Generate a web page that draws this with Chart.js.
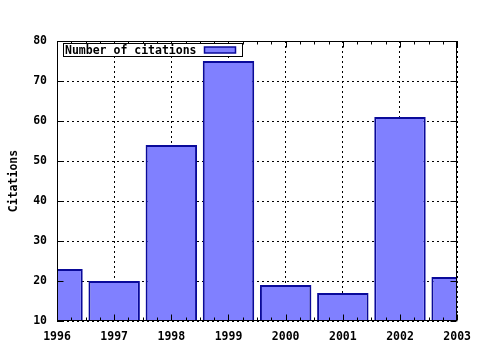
<!DOCTYPE html>
<html>
<head>
<meta charset="utf-8">
<script src="https://cdn.jsdelivr.net/npm/chart.js@4/dist/chart.umd.min.js"></script>
<style>
  html, body { margin: 0; padding: 0; background: #ffffff; }
  canvas { display: block; }
</style>
</head>
<body>
<canvas id="c" width="480" height="350"></canvas>
<script>
const years = [1996, 1997, 1998, 1999, 2000, 2001, 2002, 2003];
const citations = [23, 20, 54, 75, 19, 17, 61, 21];
const seriesLabel = 'Number of citations';
const yTitle = 'Citations';
const xRange = [1996, 2003];
const yRange = [10, 80];
const xMinorPerMajor = 4;

const FONT = '"DejaVu Sans Mono", "Liberation Mono", monospace';
const fontSpec = { family: FONT, size: 11.5, weight: 'bold' };

const framePlugin = {
  id: 'frameTicksLegend',
  afterDatasetsDraw(chart) {
    const ctx = chart.ctx;
    const a = chart.chartArea;
    const xs = chart.scales.x, ys = chart.scales.y;
    const L = Math.round(a.left) + 0.5, R = Math.round(a.right) - 0.5;
    const T = Math.round(a.top) + 0.5, B = Math.round(a.bottom) - 0.5;
    ctx.save();
    ctx.strokeStyle = '#000';
    ctx.lineWidth = 1;
    ctx.beginPath();
    // x ticks: major at each year, minor at quarter years, pointing inward
    const n = (xRange[1] - xRange[0]) * xMinorPerMajor;
    for (let k = 0; k <= n; k++) {
      const v = xRange[0] + k / xMinorPerMajor;
      const px = Math.round(xs.getPixelForValue(v)) + 0.5;
      const len = (k % xMinorPerMajor === 0) ? 6 : 3;
      ctx.moveTo(px, B); ctx.lineTo(px, B - len);
      ctx.moveTo(px, T); ctx.lineTo(px, T + len);
    }
    ys.ticks.forEach(t => {
      const py = Math.round(ys.getPixelForValue(t.value)) + 0.5;
      ctx.moveTo(L, py); ctx.lineTo(L + 6, py);
      ctx.moveTo(R, py); ctx.lineTo(R - 6, py);
    });
    ctx.stroke();
    ctx.strokeRect(L, T, R - L, B - T);

    // legend box
    const ds = chart.data.datasets[0];
    ctx.font = 'bold 11.5px ' + FONT;
    const lx = Math.round(a.left) + 6.5, ly = Math.round(a.top) + 2.5;
    const lw = 179, lh = 13;
    ctx.fillStyle = '#ffffff';
    ctx.fillRect(lx, ly, lw, lh);
    ctx.strokeStyle = '#000';
    ctx.strokeRect(lx, ly, lw, lh);
    ctx.fillStyle = '#000';
    ctx.textBaseline = 'alphabetic';
    ctx.textAlign = 'left';
    ctx.fillText(ds.label, lx + 1.5, ly + 10.5);
    const sx = lx + 141, sy = ly + 3.5;
    ctx.fillStyle = ds.backgroundColor;
    ctx.fillRect(sx, sy, 31, 6);
    ctx.strokeStyle = ds.borderColor;
    ctx.lineWidth = 1.5;
    ctx.strokeRect(sx, sy, 31, 6);
    ctx.restore();
  }
};

new Chart(document.getElementById('c'), {
  type: 'bar',
  data: {
    datasets: [{
      label: seriesLabel,
      data: years.map((y, i) => ({ x: y, y: citations[i] })),
      backgroundColor: '#8080ff',
      borderColor: '#0a0a9a',
      borderWidth: 2,
      categoryPercentage: 1.0,
      barPercentage: 0.9,
      clip: 0
    }]
  },
  options: {
    responsive: false,
    animation: false,
    events: [],
    layout: { padding: { left: 0, top: 41, right: 21, bottom: 0 } },
    plugins: { legend: { display: false }, tooltip: { enabled: false } },
    scales: {
      x: {
        type: 'linear',
        min: xRange[0], max: xRange[1],
        offset: false,
        afterFit: s => { s.height = 29; },
        grid: { offset: false, drawTicks: false, color: '#000', lineWidth: 1 },
        border: { display: false, dash: [2, 3] },
        ticks: {
          stepSize: 1,
          autoSkip: false,
          maxRotation: 0,
          padding: 9,
          color: '#000',
          font: fontSpec,
          callback: v => String(v)
        }
      },
      y: {
        min: yRange[0], max: yRange[1],
        afterFit: s => { s.width = 57; },
        grid: { drawTicks: false, color: '#000', lineWidth: 1 },
        border: { display: false, dash: [2, 3] },
        ticks: {
          stepSize: 10,
          padding: 10,
          color: '#000',
          font: fontSpec,
          callback: v => String(v)
        },
        title: {
          display: true,
          text: yTitle,
          color: '#000',
          font: fontSpec,
          padding: { top: 7, bottom: 0 }
        }
      }
    }
  },
  plugins: [framePlugin]
});
</script>
</body>
</html>
